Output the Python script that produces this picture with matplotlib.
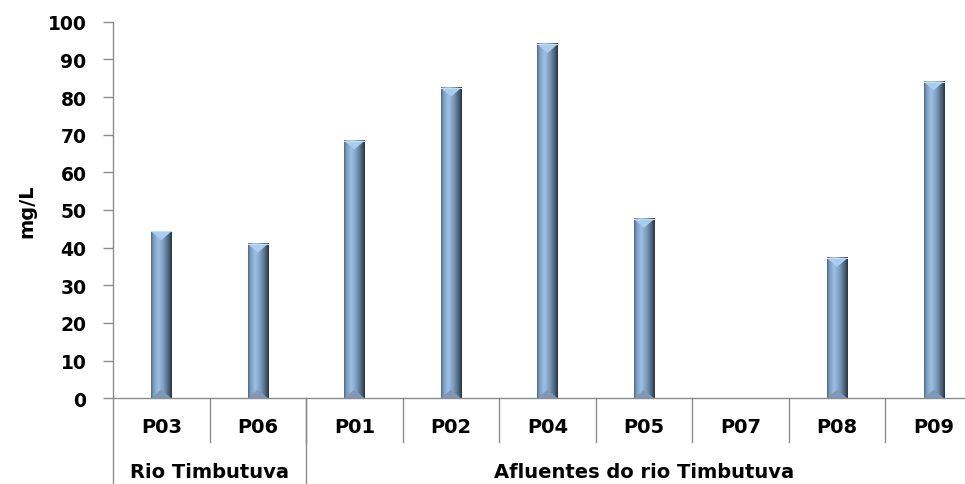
import numpy as np
import matplotlib.pyplot as plt
from matplotlib.colors import LinearSegmentedColormap

# Dados
pontos = ['P03', 'P06', 'P01', 'P02', 'P04', 'P05', 'P07', 'P08', 'P09']
valores = [44.3, 41.0, 68.4, 82.4, 94.0, 47.6, 0, 37.2, 84.1]
grupos = ['Rio Timbutuva', 'Afluentes do rio Timbutuva']
n_grupo = [2, 7]
yticks = list(range(0, 101, 10))

cinza = '#8c8c8c'
grad = LinearSegmentedColormap.from_list('barra', [
    (0.0, '#4f6680'), (0.12, '#7c9cc0'), (0.35, '#9dc0e4'),
    (0.6, '#7d9cbd'), (0.85, '#4a6178'), (1.0, '#26323e')])

fig = plt.figure(figsize=(9.65, 4.85), dpi=100)
ax = fig.add_axes([113 / 965, 85.7 / 485, 869 / 965, 376.6 / 485])

x = np.arange(len(pontos))
w = 0.21
bars = ax.bar(x, valores, width=w, color='none', edgecolor='none', zorder=2)

# barras com gradiente e chanfro
gv = np.linspace(0, 1, 256).reshape(1, -1)
dy = 2.3
for b in bars:
    h = b.get_height()
    if h <= 0:
        continue
    x0 = b.get_x()
    x1 = x0 + b.get_width()
    xc = (x0 + x1) / 2
    ax.imshow(gv, cmap=grad, extent=[x0, x1, 0, h], aspect='auto', zorder=2)
    ax.fill([x0, x1, xc], [h, h, h - dy], color='#a9cdf0', zorder=3, lw=0)
    ax.fill([x0, x1, xc], [0, 0, dy], color='#7e98b5', zorder=3, lw=0)
    ax.plot([x0, x1], [h, h], color='#c9dcee', lw=0.8, zorder=4)

ax.set_xlim(-0.5, len(pontos) - 0.5)
ax.set_ylim(0, 100)
ax.set_yticks(yticks)
ax.set_yticklabels([str(t) for t in yticks], fontsize=13.5, fontweight='bold')
ax.tick_params(axis='y', length=7, width=1, color=cinza, pad=12)
ax.set_xticks([])

for s in ['top', 'right']:
    ax.spines[s].set_visible(False)
for s in ['left', 'bottom']:
    ax.spines[s].set_color(cinza)
    ax.spines[s].set_linewidth(1)

ax.text(-0.0993, 0.5, 'mg/L', transform=ax.transAxes, rotation=90,
        ha='center', va='center', fontsize=14, fontweight='bold')

# eixo de categorias em dois niveis
tr = ax.get_xaxis_transform()
y_sep1 = -(443 - 399.3) / 376.6
y_fim = -(485 - 399.3) / 376.6
for i in range(len(pontos)):
    ax.text(i, -(428 - 399.3) / 376.6, pontos[i], transform=tr,
            ha='center', va='center', fontsize=14, fontweight='bold')
for i in range(1, len(pontos) + 1):
    ax.plot([i - 0.5, i - 0.5], [0, y_sep1], transform=tr, color=cinza,
            lw=1, clip_on=False)

ini = 0
limites = [ini]
for nome, n in zip(grupos, n_grupo):
    c = ini + (n - 1) / 2
    ax.text(c, -(473 - 399.3) / 376.6, nome, transform=tr,
            ha='center', va='center', fontsize=14, fontweight='bold')
    ini += n
    limites.append(ini)
for l in limites:
    ax.plot([l - 0.5, l - 0.5], [0, y_fim], transform=tr, color=cinza,
            lw=1, clip_on=False)

fig.savefig('out.png', dpi=100)
